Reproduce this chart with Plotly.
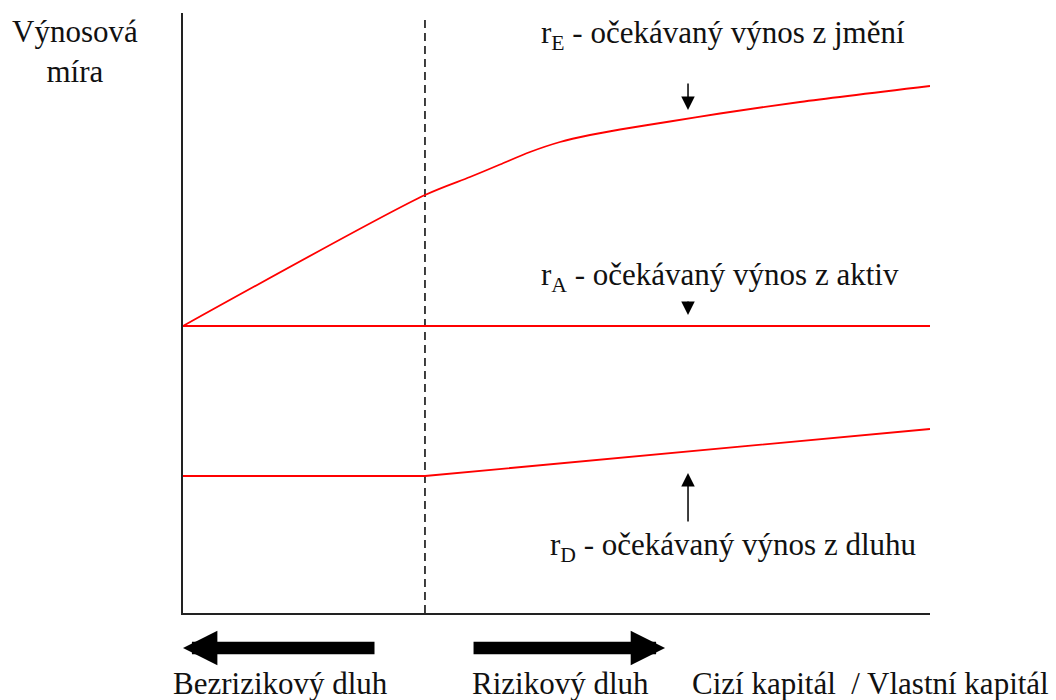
"""Capital structure chart - expected returns vs leverage (D/E)."""

import plotly.graph_objects as go

# leverage axis (D/E); the dashed line marks the end of risk-free debt
RISK_FREE_LIMIT = 1.0
X_MAX = 3.087
Y_MAX = 6.0

# r_A - expected return on assets (constant)
ra_x = [0.0, X_MAX]
ra_y = [2.87, 2.87]

# r_D - expected return on debt (flat while debt is risk free)
rd_x = [0.0, 1.0, X_MAX]
rd_y = [1.37, 1.37, 1.84]

# r_E - expected return on equity
re_x = [0.0, 1.0, 1.186, 1.310, 1.434, 1.558, 1.682, 1.806, 2.012, 2.219, 2.550, X_MAX]
re_y = [2.87, 4.18, 4.36, 4.485, 4.61, 4.71, 4.78, 4.835, 4.915, 4.995, 5.11, 5.27]

FONT = "Liberation Serif"
FONT_SIZE = 31
RED = "#ff0000"


def text_note(x, y, text, ref="x"):
    yref = "y" if ref == "x" else "paper"
    return dict(
        x=x, y=y, xref=ref, yref=yref, text=text, showarrow=False,
        font=dict(family=FONT, size=FONT_SIZE, color="#111111"),
        xanchor="center", yanchor="middle",
    )


def arrow_note(x, y, ax, ay, width=1.5, size=1.8):
    return dict(
        x=x, y=y, ax=ax, ay=ay, xref="x", yref="y", axref="x", ayref="y",
        text="", showarrow=True, arrowhead=2, arrowsize=size,
        arrowwidth=width, arrowcolor="#000000",
    )


def big_arrow(x, y, dx):
    # thick arrow under the x axis, tail offset given in pixels
    return dict(
        x=x, y=y, ax=dx, ay=0, xref="paper", yref="paper",
        axref="pixel", ayref="pixel", text="", showarrow=True,
        arrowhead=2, arrowsize=0.55, arrowwidth=12.5, arrowcolor="#000000",
    )


fig = go.Figure()

fig.add_trace(go.Scatter(
    x=[RISK_FREE_LIMIT, RISK_FREE_LIMIT], y=[0, Y_MAX - 0.04], mode="lines",
    line=dict(color="#000000", width=1.5, dash="8px,5px"), hoverinfo="skip",
))
fig.add_trace(go.Scatter(x=ra_x, y=ra_y, mode="lines", name="rA",
                         line=dict(color=RED, width=1.8)))
fig.add_trace(go.Scatter(x=rd_x, y=rd_y, mode="lines", name="rD",
                         line=dict(color=RED, width=1.8)))
fig.add_trace(go.Scatter(x=re_x, y=re_y, mode="lines", name="rE",
                         line=dict(color=RED, width=1.8, shape="spline", smoothing=0.8)))

annotations = [
    text_note(-0.1446, 0.935, "Výnosová<br>míra", ref="paper"),
    text_note(2.231, 5.78, "r<sub>E</sub> - očekávaný výnos z jmění"),
    text_note(2.219, 3.36, "r<sub>A</sub> - očekávaný výnos z aktiv"),
    text_note(2.273, 0.66, "r<sub>D</sub> - očekávaný výnos z dluhu"),
    text_note(0.131, -0.1167, "Bezrizikový dluh", ref="paper"),
    text_note(0.506, -0.1167, "Rizikový dluh", ref="paper"),
    text_note(0.921, -0.1167, "Cizí kapitál \u00a0/ Vlastní kapitál", ref="paper"),
    arrow_note(2.087, 5.03, 2.087, 5.31),
    arrow_note(2.087, 2.98, 2.087, 3.13),
    arrow_note(2.087, 1.40, 2.087, 0.90),
    big_arrow(0.0, -0.0583, 193),
    big_arrow(0.6453, -0.0583, -193),
]

fig.update_layout(
    width=1056, height=700,
    margin=dict(l=183, r=126, t=13, b=87),
    paper_bgcolor="#ffffff", plot_bgcolor="#ffffff",
    showlegend=False,
    annotations=annotations,
    xaxis=dict(range=[0, X_MAX], showline=True, linecolor="#222222", linewidth=1.8,
               showgrid=False, zeroline=False, showticklabels=False, ticks=""),
    yaxis=dict(range=[0, Y_MAX], showline=True, linecolor="#222222", linewidth=1.8,
               showgrid=False, zeroline=False, showticklabels=False, ticks=""),
)

fig.write_html(
    "out.html",
    config={"displayModeBar": False},
    post_script="document.body.style.margin = '0px';",
)
